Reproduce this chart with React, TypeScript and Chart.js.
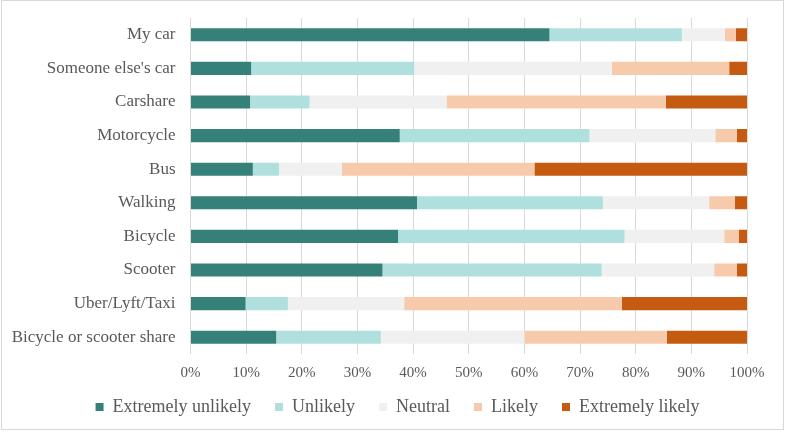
import React, { useEffect, useRef } from "react";
import { Chart, registerables } from "chart.js";

Chart.register(...registerables);

const categories = [
  "My car",
  "Someone else's car",
  "Carshare",
  "Motorcycle",
  "Bus",
  "Walking",
  "Bicycle",
  "Scooter",
  "Uber/Lyft/Taxi",
  "Bicycle or scooter share",
];

const seriesNames = ["Extremely unlikely", "Unlikely", "Neutral", "Likely", "Extremely likely"];

const extremelyUnlikely = [64.5, 10.9, 10.7, 37.6, 11.2, 40.7, 37.3, 34.5, 9.9, 15.4];
const unlikely = [23.8, 29.3, 10.7, 34.1, 4.7, 33.4, 40.7, 39.4, 7.6, 18.8];
const neutral = [7.7, 35.5, 24.6, 22.6, 11.3, 19.1, 17.9, 20.2, 20.9, 25.8];
const likely = [2.0, 21.1, 39.4, 3.9, 34.6, 4.6, 2.6, 4.1, 39.1, 25.6];
const extremelyLikely = [2.0, 3.2, 14.6, 1.8, 38.2, 2.2, 1.5, 1.8, 22.5, 14.4];

const colors = ["#36807A", "#B0E0DD", "#F0F0F0", "#F7CAAC", "#C55A11"];

const FONT = "'Liberation Serif', 'Times New Roman', serif";
const TEXT = "#595959";

const borderPlugin = {
  id: "outerBorder",
  beforeDraw(chart: any) {
    const ctx = chart.ctx;
    ctx.save();
    ctx.fillStyle = "#ffffff";
    ctx.fillRect(0, 0, chart.width, chart.height);
    ctx.strokeStyle = "#d9d9d9";
    ctx.lineWidth = 1;
    ctx.strokeRect(1.5, 0.5, chart.width - 3, chart.height - 3);
    ctx.restore();
  },
};

const layoutTweakPlugin = {
  id: "layoutTweak",
  afterLayout(chart: any) {
    const lg = chart.legend;
    if (lg) {
      lg.left += 24;
      lg.right += 24;
    }
    const xs = chart.scales.x;
    if (xs) {
      xs.bottom = xs.top + 40;
      xs.height = 40;
    }
  },
};

export default function App() {
  const ref = useRef<HTMLCanvasElement | null>(null);

  useEffect(() => {
    if (!ref.current) return;
    const all = [extremelyUnlikely, unlikely, neutral, likely, extremelyLikely];
    const chart = new Chart(ref.current, {
      type: "bar",
      data: {
        labels: categories,
        datasets: all.map((d, i) => ({
          label: seriesNames[i],
          data: d,
          backgroundColor: colors[i],
          borderWidth: 0,
          categoryPercentage: 1,
          barPercentage: 0.39,
        })),
      },
      options: {
        indexAxis: "y",
        responsive: false,
        animation: false,
        layout: { padding: { left: 0, right: 38, top: 18, bottom: 6 } },
        plugins: {
          tooltip: { enabled: false },
          legend: {
            position: "bottom",
            labels: {
              boxWidth: 8,
              boxHeight: 8,
              padding: 24,
              color: TEXT,
              font: { family: FONT, size: 18 },
            },
          },
        },
        scales: {
          x: {
            stacked: true,
            min: 0,
            max: 100,
            ticks: {
              stepSize: 10,
              color: TEXT,
              font: { family: FONT, size: 15 },
              padding: 10,
              callback: (v: any) => v + "%",
            },
            grid: { color: "#d9d9d9", drawTicks: false },
            border: { display: false },
            afterFit: (scale: any) => {
              scale.height = 20;
            },
          },
          y: {
            stacked: true,
            ticks: {
              color: TEXT,
              font: { family: FONT, size: 17 },
              padding: 15,
            },
            grid: { display: false, drawTicks: false },
            border: { display: false },
            afterFit: (scale: any) => {
              scale.width = 190.5;
              scale.paddingTop = 0;
              scale.paddingBottom = 0;
            },
          },
        },
      },
      plugins: [borderPlugin, layoutTweakPlugin],
    });
    return () => chart.destroy();
  }, []);

  return (
    <div style={{ position: "fixed", left: 0, top: 0, width: 785, height: 432, background: "#fff" }}>
      <canvas ref={ref} width={785} height={432} />
    </div>
  );
}
